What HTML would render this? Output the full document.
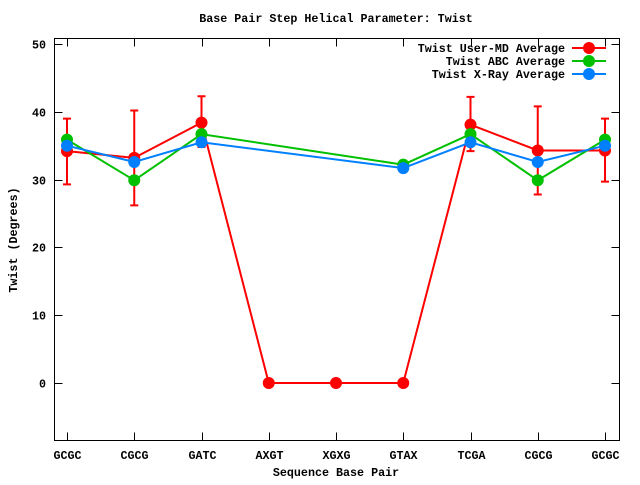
<!DOCTYPE html>
<html><head><meta charset="utf-8"><style>
body{margin:0;background:#fff}
svg text{font-family:"Liberation Mono",monospace;font-size:11.7px;font-weight:bold;fill:#000}
</style></head><body>
<svg id="c" width="640" height="480" xmlns="http://www.w3.org/2000/svg">
<text x="336" y="22" text-anchor="middle">Base Pair Step Helical Parameter: Twist</text>
<text x="336" y="476" text-anchor="middle">Sequence Base Pair</text>
<text transform="translate(17,240) rotate(-90)" text-anchor="middle">Twist (Degrees)</text>
<g id="axes"></g><g id="series"></g><g id="legend"></g>
</svg>
<script>
const categories=["GCGC","CGCG","GATC","AXGT","XGXG","GTAX","TCGA","CGCG","GCGC"];
const yTicks=[0,10,20,30,40,50];
const userMD=[34.2,33.2,38.4,0,0,0,38.1,34.3,34.3];
const userLo=[29.3,26.2,34.8,0,0,0,34.2,27.8,29.7];
const userHi=[39.0,40.2,42.3,0,0,0,42.2,40.8,39.0];
const abc=[35.9,29.9,36.7,null,null,32.2,36.7,29.9,35.9];
const xray=[35.0,32.6,35.5,null,null,31.7,35.5,32.6,35.0];
const seriesNames=["Twist User-MD Average","Twist ABC Average","Twist X-Ray Average"];
const NS="http://www.w3.org/2000/svg";
const L=54.5,R=619.5,T=38.5,B=440.5;
const x=i=>67+i*67.25;
const y=v=>383-v*6.78;
function mk(p,t,a){const e=document.createElementNS(NS,t);for(const k in a)e.setAttribute(k,a[k]);p.appendChild(e);return e;}
const ax=document.getElementById('axes');
const fr=mk(ax,'rect',{x:L,y:T,width:R-L,height:B-T,fill:'none',stroke:'#000','stroke-width':1});


yTicks.forEach(v=>{
 const yy=Math.round(y(v))+0.5;
 mk(ax,'line',{x1:L,x2:L+8,y1:yy,y2:yy,stroke:'#000'});
 mk(ax,'line',{x1:R,x2:R-8,y1:yy,y2:yy,stroke:'#000'});
 const t=mk(ax,'text',{x:46,y:yy+4,'text-anchor':'end'});t.textContent=v;
 
 
});
categories.forEach((c,i)=>{
 const xx=Math.round(x(i))+0.5;
 mk(ax,'line',{x1:xx,x2:xx,y1:B,y2:B-8,stroke:'#000'});
 mk(ax,'line',{x1:xx,x2:xx,y1:T,y2:T+8,stroke:'#000'});
 const t=mk(ax,'text',{x:xx,y:459,'text-anchor':'middle'});t.textContent=c;
 
 
});
const sg=document.getElementById('series');
function drawLine(vals,col,name){
 const g=mk(sg,'g',{});
 
 
 let d='',pen=false;
 vals.forEach((v,i)=>{if(v===null)return;d+=(pen?'L':'M')+x(i)+' '+y(v);pen=true;});
 mk(g,'path',{d:d,fill:'none',stroke:col,'stroke-width':2});
 vals.forEach((v,i)=>{if(v===null)return;const c=mk(g,'circle',{cx:x(i),cy:y(v),r:6,fill:col});
  
  });
 return g;
}
const rg=drawLine(userMD,'#ff0000','series-user-md');
userMD.forEach((v,i)=>{
 if(userHi[i]===userLo[i])return;
 const xx=x(i);
 mk(rg,'path',{d:`M${xx} ${y(userLo[i])}V${y(userHi[i])}M${xx-4} ${y(userLo[i])}h8M${xx-4} ${y(userHi[i])}h8`,stroke:'#ff0000','stroke-width':2,fill:'none'});
});
drawLine(abc,'#00c000','series-abc');
drawLine(xray,'#0080ff','series-xray');
const lg=document.getElementById('legend');
const cols=['#ff0000','#00c000','#0080ff'];
seriesNames.forEach((n,i)=>{
 const yy=48+i*13;
 const g=mk(lg,'g',{});
 
 
 const t=mk(g,'text',{x:565,y:yy+4,'text-anchor':'end'});t.textContent=n;
 mk(g,'line',{x1:572,x2:606,y1:yy,y2:yy,stroke:cols[i],'stroke-width':2});
 mk(g,'circle',{cx:589,cy:yy,r:6,fill:cols[i]});
});
</script>
</body></html>
